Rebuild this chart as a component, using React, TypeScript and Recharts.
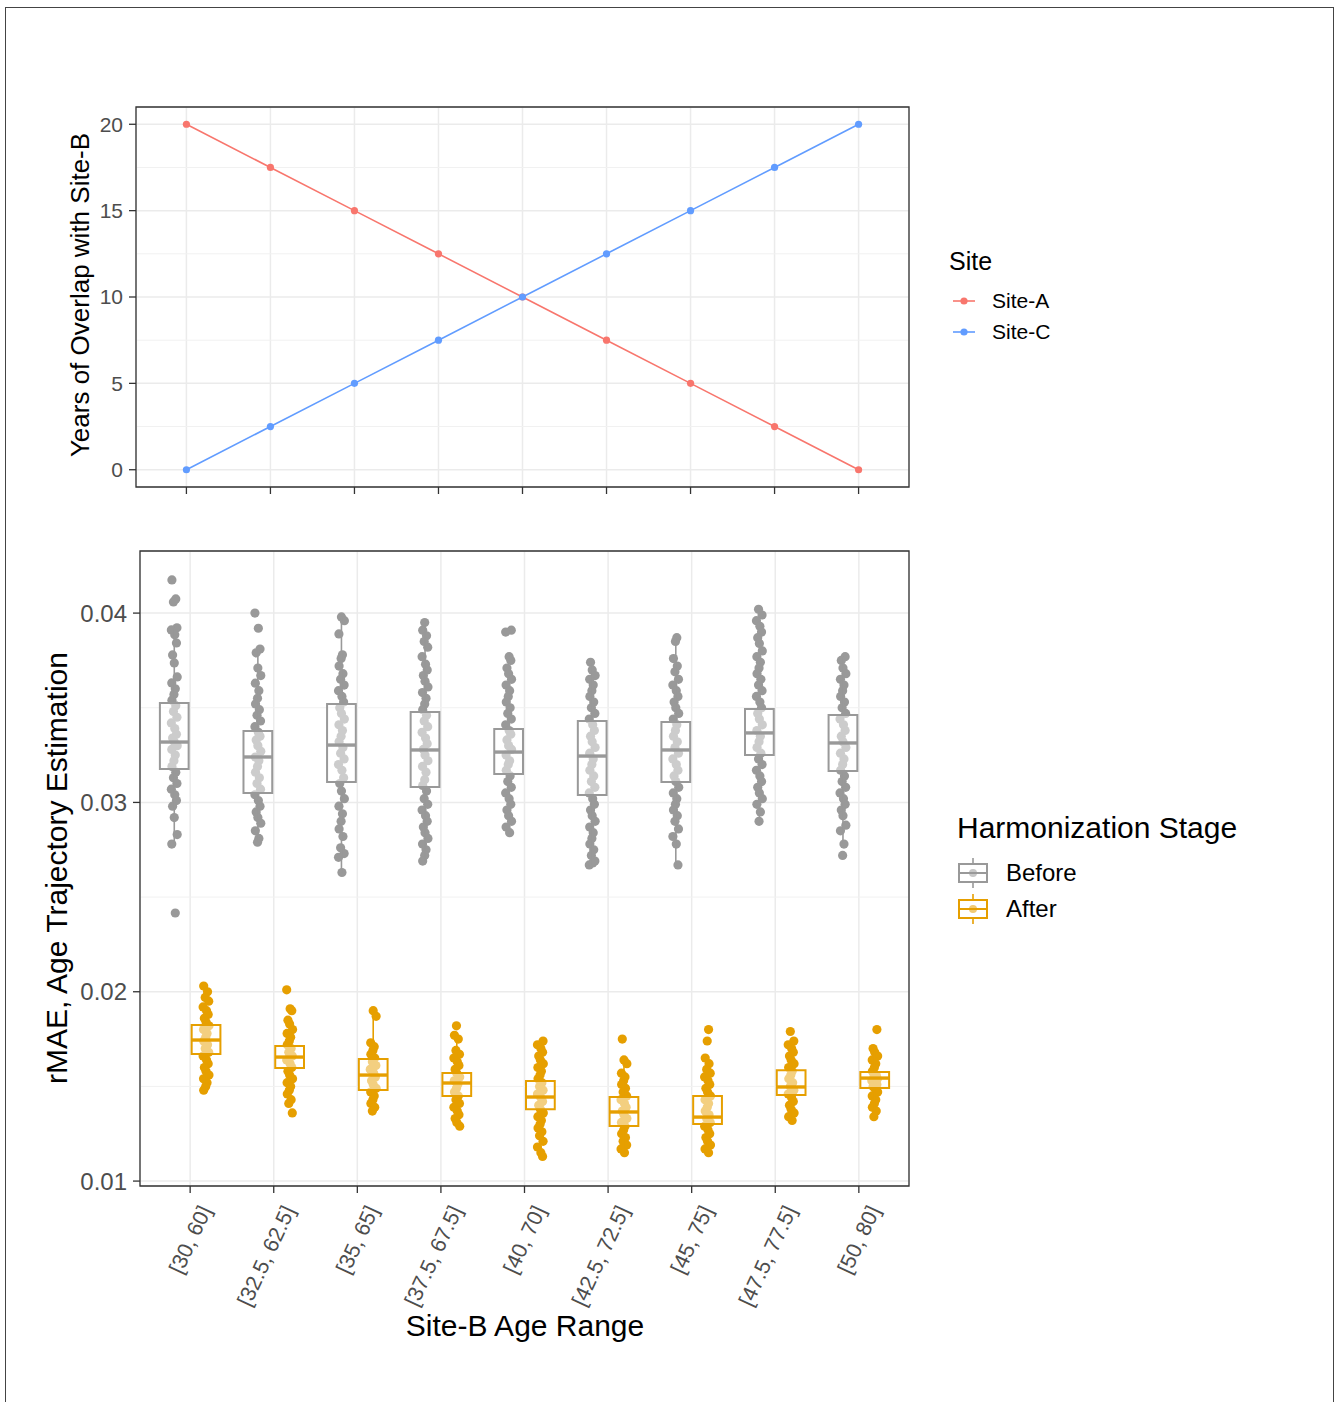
import React from 'react';
import {
    CartesianGrid,
    ComposedChart,
    Legend,
    Line,
    ReferenceArea,
    ReferenceLine,
    Scatter,
    XAxis,
    YAxis,
} from 'recharts';

const AGE_RANGES = [
    '[30, 60]',
    '[32.5, 62.5]',
    '[35, 65]',
    '[37.5, 67.5]',
    '[40, 70]',
    '[42.5, 72.5]',
    '[45, 75]',
    '[47.5, 77.5]',
    '[50, 80]',
];
const CATEGORY_POS = [1, 2, 3, 4, 5, 6, 7, 8, 9];
const STAGES = ['Before', 'After'];

const SITE_A_OVERLAP = [20, 17.5, 15, 12.5, 10, 7.5, 5, 2.5, 0];
const SITE_C_OVERLAP = [0, 2.5, 5, 7.5, 10, 12.5, 15, 17.5, 20];
const OVERLAP_TICKS = [0, 5, 10, 15, 20];
const OVERLAP_MINOR = [2.5, 7.5, 12.5, 17.5];

const RMAE_TICKS = [0.01, 0.02, 0.03, 0.04];
const RMAE_MINOR = [0.015, 0.025, 0.035];

// box stats
const BEFORE_Q1 = [0.03177, 0.0305, 0.03108, 0.03081, 0.0315, 0.03039, 0.03108, 0.0325, 0.03166];
const BEFORE_MEDIAN = [0.03319, 0.0324, 0.03303, 0.03277, 0.03266, 0.03245, 0.03277, 0.03367, 0.03314];
const BEFORE_Q3 = [0.03525, 0.03377, 0.0352, 0.03478, 0.03388, 0.0343, 0.03425, 0.03494, 0.03462];

const AFTER_Q1 = [0.01671, 0.01597, 0.01481, 0.01449, 0.0138, 0.01291, 0.01301, 0.01454, 0.01491];
const AFTER_MEDIAN = [0.01745, 0.01655, 0.0156, 0.01518, 0.01444, 0.01365, 0.01338, 0.01497, 0.01544];
const AFTER_Q3 = [0.01824, 0.01713, 0.01645, 0.01571, 0.01528, 0.01444, 0.01449, 0.01586, 0.01576];

// individual rMAE values (estimated from the jittered dots)
const BEFORE_POINTS = [
    [0.04175, 0.04075, 0.04059, 0.03922, 0.03911, 0.03885, 0.03842, 0.03779, 0.03737, 0.03663, 0.03631, 0.036, 0.0357, 0.0354, 0.0351, 0.0348, 0.0345, 0.0342, 0.0339, 0.0336, 0.0334, 0.0332, 0.033, 0.0328, 0.0325, 0.0322, 0.0319, 0.0316, 0.0313, 0.031, 0.0307, 0.0304, 0.0301, 0.0298, 0.0292, 0.0283, 0.0278, 0.02416],
    [0.04, 0.0392, 0.0381, 0.0379, 0.0371, 0.0367, 0.0363, 0.0359, 0.0355, 0.0352, 0.0349, 0.0346, 0.0343, 0.034, 0.0337, 0.0335, 0.0333, 0.033, 0.0327, 0.0324, 0.0322, 0.0319, 0.0316, 0.0313, 0.031, 0.0307, 0.0304, 0.0301, 0.0298, 0.0295, 0.0292, 0.0289, 0.0285, 0.0281, 0.0279],
    [0.0398, 0.0396, 0.0389, 0.0378, 0.0376, 0.0372, 0.0368, 0.0365, 0.0362, 0.0359, 0.0356, 0.0353, 0.035, 0.0347, 0.0344, 0.0341, 0.0338, 0.0335, 0.0332, 0.0329, 0.0326, 0.0323, 0.032, 0.0317, 0.0313, 0.031, 0.0306, 0.0302, 0.0298, 0.0294, 0.029, 0.0286, 0.0282, 0.0276, 0.0273, 0.0271, 0.0263],
    [0.0395, 0.0391, 0.0388, 0.0385, 0.0382, 0.0377, 0.0373, 0.037, 0.0367, 0.0364, 0.0361, 0.0358, 0.0355, 0.0352, 0.0349, 0.0346, 0.0343, 0.034, 0.0337, 0.0334, 0.0331, 0.0328, 0.0325, 0.0322, 0.0319, 0.0316, 0.0312, 0.0309, 0.0306, 0.0302, 0.0299, 0.0296, 0.0293, 0.029, 0.0287, 0.0284, 0.0281, 0.0278, 0.0275, 0.0272, 0.0269],
    [0.0391, 0.039, 0.0377, 0.0375, 0.0371, 0.0368, 0.0365, 0.0362, 0.0359, 0.0356, 0.0353, 0.035, 0.0347, 0.0344, 0.0341, 0.0338, 0.0336, 0.0333, 0.033, 0.0328, 0.0325, 0.0322, 0.032, 0.0317, 0.0314, 0.0311, 0.0308, 0.0305, 0.0302, 0.0299, 0.0296, 0.0293, 0.029, 0.0287, 0.0284],
    [0.0374, 0.037, 0.0367, 0.0365, 0.0362, 0.0359, 0.0356, 0.0353, 0.035, 0.0347, 0.0344, 0.0341, 0.0338, 0.0335, 0.0332, 0.0329, 0.0326, 0.0323, 0.032, 0.0317, 0.0314, 0.0311, 0.0308, 0.0305, 0.0302, 0.0299, 0.0296, 0.0293, 0.029, 0.0287, 0.0284, 0.0281, 0.0278, 0.0275, 0.0272, 0.0269, 0.0267, 0.0268],
    [0.0387, 0.0385, 0.0376, 0.0372, 0.0369, 0.0365, 0.0362, 0.0359, 0.0356, 0.0353, 0.035, 0.0347, 0.0344, 0.0341, 0.0338, 0.0335, 0.0332, 0.0329, 0.0326, 0.0323, 0.032, 0.0317, 0.0314, 0.0311, 0.0308, 0.0305, 0.0302, 0.0299, 0.0296, 0.0293, 0.029, 0.0286, 0.0282, 0.0278, 0.0267],
    [0.0402, 0.0399, 0.0396, 0.0393, 0.039, 0.0387, 0.0384, 0.038, 0.0377, 0.0374, 0.0371, 0.0368, 0.0365, 0.0362, 0.0359, 0.0356, 0.0353, 0.035, 0.0347, 0.0344, 0.0341, 0.0338, 0.0335, 0.0332, 0.0329, 0.0326, 0.0323, 0.032, 0.0317, 0.0314, 0.0311, 0.0308, 0.0305, 0.0302, 0.0299, 0.0295, 0.029],
    [0.0377, 0.0375, 0.0371, 0.0368, 0.0365, 0.0362, 0.0359, 0.0356, 0.0353, 0.035, 0.0347, 0.0344, 0.0341, 0.0338, 0.0335, 0.0332, 0.0329, 0.0326, 0.0323, 0.032, 0.0317, 0.0314, 0.0311, 0.0308, 0.0305, 0.0302, 0.0299, 0.0296, 0.0293, 0.0288, 0.0285, 0.0278, 0.0272],
];

const AFTER_POINTS = [
    [0.0203, 0.02, 0.0197, 0.0195, 0.0192, 0.019, 0.0188, 0.0186, 0.0184, 0.0182, 0.018, 0.0178, 0.0176, 0.0174, 0.0172, 0.017, 0.0168, 0.0166, 0.0164, 0.0162, 0.016, 0.0158, 0.0156, 0.0154, 0.0152, 0.015, 0.0148],
    [0.0201, 0.0191, 0.019, 0.0185, 0.0183, 0.018, 0.0178, 0.0176, 0.0174, 0.0172, 0.017, 0.0168, 0.0166, 0.0164, 0.0162, 0.016, 0.0158, 0.0156, 0.0154, 0.0152, 0.015, 0.0148, 0.0146, 0.0143, 0.0141, 0.0136],
    [0.019, 0.0187, 0.0173, 0.0171, 0.0169, 0.0167, 0.0165, 0.0163, 0.0161, 0.0159, 0.0157, 0.0155, 0.0153, 0.0151, 0.0149, 0.0147, 0.0145, 0.0143, 0.0141, 0.0139, 0.0137],
    [0.0182, 0.0177, 0.0175, 0.0169, 0.0167, 0.0165, 0.0163, 0.0161, 0.0159, 0.0157, 0.0155, 0.0153, 0.0151, 0.0149, 0.0147, 0.0145, 0.0143, 0.0141, 0.0139, 0.0137, 0.0135, 0.0133, 0.0131, 0.0129],
    [0.0174, 0.0172, 0.017, 0.0168, 0.0166, 0.0164, 0.0162, 0.016, 0.0158, 0.0156, 0.0154, 0.0152, 0.015, 0.0148, 0.0146, 0.0144, 0.0142, 0.014, 0.0138, 0.0136, 0.0134, 0.0132, 0.013, 0.0128, 0.0126, 0.0124, 0.0121, 0.0118, 0.0115, 0.0113],
    [0.0175, 0.0164, 0.0162, 0.0157, 0.0155, 0.0153, 0.0151, 0.0149, 0.0147, 0.0145, 0.0143, 0.0141, 0.0139, 0.0137, 0.0135, 0.0133, 0.0131, 0.0129, 0.0127, 0.0125, 0.0123, 0.0121, 0.0119, 0.0117, 0.0115],
    [0.018, 0.0174, 0.0165, 0.0162, 0.0159, 0.0157, 0.0155, 0.0153, 0.0151, 0.0149, 0.0147, 0.0145, 0.0143, 0.0141, 0.0139, 0.0137, 0.0135, 0.0133, 0.0131, 0.0129, 0.0127, 0.0125, 0.0123, 0.0121, 0.0119, 0.0117, 0.0115],
    [0.0179, 0.0174, 0.0172, 0.017, 0.0168, 0.0166, 0.0164, 0.0162, 0.016, 0.0158, 0.0156, 0.0154, 0.0152, 0.015, 0.0148, 0.0146, 0.0144, 0.0142, 0.014, 0.0138, 0.0136, 0.0134, 0.0132],
    [0.018, 0.017, 0.0168, 0.0166, 0.0164, 0.0162, 0.016, 0.0158, 0.0156, 0.0155, 0.0154, 0.0153, 0.0152, 0.0151, 0.015, 0.0149, 0.0147, 0.0145, 0.0143, 0.0141, 0.0139, 0.0137, 0.0134],
];

// fixed horizontal spread for the dots, in category units
const JITTER = [-0.028, 0.018, -0.01, 0.032, -0.035, 0.006, 0.026, -0.02, 0, 0.035, -0.03, 0.012, -0.004];

const SITE_A_COLOR = '#F8766D';
const SITE_C_COLOR = '#619CFF';
const BEFORE_COLOR = '#999999';
const AFTER_COLOR = '#E69F00';
const GRID = '#EBEBEB';
const FONT = '"Liberation Sans", Arial, Helvetica, sans-serif';

const X_DOMAIN: [number, number] = [0.4, 9.6];
const OVERLAP_DOMAIN: [number, number] = [-1, 21];
const RMAE_DOMAIN: [number, number] = [0.00974, 0.04328];
const DODGE = 0.19;
const HALF_BOX = 0.172;

const overlapRows = CATEGORY_POS.map((pos, i) => ({
    pos,
    siteA: SITE_A_OVERLAP[i],
    siteC: SITE_C_OVERLAP[i],
}));

function jittered(points: number[][], shift: number) {
    return points.flatMap((vals, g) =>
        vals.map((y, j) => ({
            x: CATEGORY_POS[g] + shift + JITTER[(j + g * 4) % JITTER.length],
            y,
        })),
    );
}

const beforeDots = jittered(BEFORE_POINTS, -DODGE);
const afterDots = jittered(AFTER_POINTS, DODGE);

function whiskerEnds(vals: number[], q1: number, q3: number) {
    const iqr = q3 - q1;
    const inside = vals.filter((v) => v >= q1 - 1.5 * iqr && v <= q3 + 1.5 * iqr);
    return [Math.min(...inside), Math.max(...inside)];
}

function boxes(
    stage: string,
    q1s: number[],
    medians: number[],
    q3s: number[],
    points: number[][],
    shift: number,
    color: string,
) {
    return q1s.map((q1, g) => {
        const cx = CATEGORY_POS[g] + shift;
        const q3 = q3s[g];
        const [lo, hi] = whiskerEnds(points[g], q1, q3);
        return [
            <ReferenceLine
                key={`${stage}-wu-${g}`}
                segment={[{ x: cx, y: q3 }, { x: cx, y: hi }]}
                stroke={color}
                strokeWidth={1.6}
                zIndex={690}
            />,
            <ReferenceLine
                key={`${stage}-wl-${g}`}
                segment={[{ x: cx, y: lo }, { x: cx, y: q1 }]}
                stroke={color}
                strokeWidth={1.6}
                zIndex={690}
            />,
            <ReferenceArea
                key={`${stage}-box-${g}`}
                x1={cx - HALF_BOX}
                x2={cx + HALF_BOX}
                y1={q1}
                y2={q3}
                fill="#ffffff"
                fillOpacity={0.5}
                stroke={color}
                strokeWidth={2}
                strokeOpacity={1}
                zIndex={700}
            />,
            <ReferenceLine
                key={`${stage}-med-${g}`}
                segment={[
                    { x: cx - HALF_BOX, y: medians[g] },
                    { x: cx + HALF_BOX, y: medians[g] },
                ]}
                stroke={color}
                strokeWidth={3.4}
                zIndex={710}
            />,
        ];
    });
}

const dotShape = (color: string, r: number) => (props: any) => (
    <circle cx={props.cx} cy={props.cy} r={r} fill={color} />
);

const AgeTick = (props: any) => {
    const { x, y, payload } = props;
    const label = AGE_RANGES[Math.round(payload.value) - 1];
    const px = x + 15;
    const py = y + 12;
    return (
        <text
            x={px}
            y={py}
            dy="0.35em"
            textAnchor="end"
            transform={`rotate(-65 ${px} ${py})`}
            fontSize={21.5}
            fill="#4D4D4D"
        >
            {label}
        </text>
    );
};

const SiteLegend = (props: any) => {
    const items = props.payload || [];
    return (
        <svg width={260} height={110} style={{ overflow: 'visible' }}>
            <text x={9} y={30} fontSize={25} fill="#000">
                Site
            </text>
            {items.map((it: any, i: number) => {
                const cy = 61 + i * 31;
                return (
                    <g key={it.value}>
                        <line x1={13} x2={35} y1={cy} y2={cy} stroke={it.color} strokeWidth={1.6} />
                        <circle cx={24} cy={cy} r={3.6} fill={it.color} />
                        <text x={52} y={cy} dy="0.35em" fontSize={21} fill="#000">
                            {it.value}
                        </text>
                    </g>
                );
            })}
        </svg>
    );
};

const StageLegend = (props: any) => {
    const items = (props.payload || [])
        .slice()
        .sort((a: any, b: any) => STAGES.indexOf(a.value) - STAGES.indexOf(b.value));
    return (
        <svg width={380} height={160} style={{ overflow: 'visible' }}>
            <text x={7} y={38} fontSize={30} fill="#000">
                Harmonization Stage
            </text>
            {items.map((it: any, i: number) => {
                const cy = 73 + i * 36;
                return (
                    <g key={it.value}>
                        <line x1={23} x2={23} y1={cy - 15} y2={cy + 15} stroke={it.color} strokeWidth={1.6} />
                        <rect x={9} y={cy - 9} width={28} height={18} fill="#fff" stroke={it.color} strokeWidth={2} />
                        <line x1={9} x2={37} y1={cy} y2={cy} stroke={it.color} strokeWidth={2} />
                        <circle cx={23} cy={cy} r={4} fill={it.color} fillOpacity={0.55} />
                        <text x={56} y={cy} dy="0.35em" fontSize={24} fill="#000">
                            {it.value}
                        </text>
                    </g>
                );
            })}
        </svg>
    );
};

function OverlapChart() {
    return (
        <ComposedChart
            width={1335}
            height={520}
            data={overlapRows}
            margin={{ top: 107, right: 426, bottom: 13, left: 76 }}
        >
            <CartesianGrid stroke={GRID} strokeWidth={1.5} />
            {OVERLAP_MINOR.map((v) => (
                <ReferenceLine key={v} y={v} stroke="#F1F1F1" strokeWidth={1} zIndex={-60} />
            ))}
            <XAxis
                dataKey="pos"
                type="number"
                domain={X_DOMAIN}
                ticks={CATEGORY_POS}
                tickFormatter={() => ''}
                height={20}
                axisLine={false}
                tickSize={7}
                tickLine={{ stroke: '#333', strokeWidth: 1.3 }}
            />
            <YAxis
                type="number"
                domain={OVERLAP_DOMAIN}
                ticks={OVERLAP_TICKS}
                width={60}
                axisLine={false}
                tickSize={7}
                tickMargin={6}
                tickLine={{ stroke: '#333', strokeWidth: 1.3 }}
                tick={{ fontSize: 21, fill: '#4D4D4D' }}
            />
            <Line
                name="Site-A"
                dataKey="siteA"
                stroke={SITE_A_COLOR}
                strokeWidth={1.6}
                dot={{ r: 3.6, fill: SITE_A_COLOR, stroke: SITE_A_COLOR, strokeWidth: 0 }}
                isAnimationActive={false}
            />
            <Line
                name="Site-C"
                dataKey="siteC"
                stroke={SITE_C_COLOR}
                strokeWidth={1.6}
                dot={{ r: 3.6, fill: SITE_C_COLOR, stroke: SITE_C_COLOR, strokeWidth: 0 }}
                isAnimationActive={false}
            />
            <ReferenceArea
                x1={X_DOMAIN[0]}
                x2={X_DOMAIN[1]}
                y1={OVERLAP_DOMAIN[0]}
                y2={OVERLAP_DOMAIN[1]}
                fill="none"
                stroke="#333"
                strokeWidth={1.3}
                strokeOpacity={1}
                zIndex={900}
            />
            <Legend
                layout="horizontal"
                verticalAlign="middle"
                align="center"
                content={SiteLegend}
                wrapperStyle={{ left: 940, top: 240, width: 260 }}
            />
        </ComposedChart>
    );
}

function RmaeChart() {
    return (
        <ComposedChart
            width={1335}
            height={880}
            margin={{ top: 31, right: 426, bottom: 94, left: 80 }}
        >
            <CartesianGrid stroke={GRID} strokeWidth={1.5} />
            {RMAE_MINOR.map((v) => (
                <ReferenceLine key={v} y={v} stroke="#F1F1F1" strokeWidth={1} zIndex={-60} />
            ))}
            <XAxis
                dataKey="x"
                type="number"
                domain={X_DOMAIN}
                ticks={CATEGORY_POS}
                height={120}
                axisLine={false}
                tickSize={7}
                tickMargin={2}
                tickLine={{ stroke: '#333', strokeWidth: 1.3 }}
                tick={<AgeTick />}
                interval={0}
            />
            <YAxis
                dataKey="y"
                type="number"
                domain={RMAE_DOMAIN}
                ticks={RMAE_TICKS}
                tickFormatter={(v) => v.toFixed(2)}
                width={60}
                axisLine={false}
                tickSize={7}
                tickMargin={6}
                tickLine={{ stroke: '#333', strokeWidth: 1.3 }}
                tick={{ fontSize: 24, fill: '#4D4D4D' }}
            />
            <Scatter
                name="Before"
                data={beforeDots}
                fill={BEFORE_COLOR}
                shape={dotShape(BEFORE_COLOR, 4.6)}
                isAnimationActive={false}
            />
            <Scatter
                name="After"
                data={afterDots}
                fill={AFTER_COLOR}
                shape={dotShape(AFTER_COLOR, 4.6)}
                isAnimationActive={false}
            />
            {boxes('before', BEFORE_Q1, BEFORE_MEDIAN, BEFORE_Q3, BEFORE_POINTS, -DODGE, BEFORE_COLOR)}
            {boxes('after', AFTER_Q1, AFTER_MEDIAN, AFTER_Q3, AFTER_POINTS, DODGE, AFTER_COLOR)}
            <ReferenceArea
                x1={X_DOMAIN[0]}
                x2={X_DOMAIN[1]}
                y1={RMAE_DOMAIN[0]}
                y2={RMAE_DOMAIN[1]}
                fill="none"
                stroke="#333"
                strokeWidth={1.3}
                strokeOpacity={1}
                zIndex={900}
            />
            <Legend
                layout="horizontal"
                verticalAlign="middle"
                align="center"
                content={StageLegend}
                wrapperStyle={{ left: 950, top: 280, width: 380 }}
            />
        </ComposedChart>
    );
}

export default function App() {
    return (
        <div
            style={{
                position: 'absolute',
                left: 0,
                top: 0,
                width: 1335,
                height: 1402,
                overflow: 'hidden',
                background: '#fff',
                fontFamily: FONT,
            }}
        >
            <div
                style={{
                    position: 'absolute',
                    left: 5,
                    top: 7,
                    width: 1329,
                    height: 1395,
                    borderTop: '1.3px solid #444',
                    borderLeft: '1.3px solid #444',
                    borderRight: '1.3px solid #444',
                    boxSizing: 'border-box',
                }}
            />
            <div style={{ position: 'absolute', left: 0, top: 0 }}>
                <OverlapChart />
            </div>
            <div style={{ position: 'absolute', left: 0, top: 520 }}>
                <RmaeChart />
            </div>
            <svg
                width={1335}
                height={1402}
                style={{ position: 'absolute', left: 0, top: 0, pointerEvents: 'none' }}
            >
                <text
                    x={80}
                    y={295}
                    transform="rotate(-90 80 295)"
                    textAnchor="middle"
                    dy="0.35em"
                    fontSize={26}
                    fill="#000"
                >
                    Years of Overlap with Site-B
                </text>
                <text
                    x={56}
                    y={868}
                    transform="rotate(-90 56 868)"
                    textAnchor="middle"
                    dy="0.35em"
                    fontSize={30}
                    fill="#000"
                >
                    rMAE, Age Trajectory Estimation
                </text>
                <text x={525} y={1325} textAnchor="middle" dy="0.35em" fontSize={30} fill="#000">
                    Site-B Age Range
                </text>
            </svg>
        </div>
    );
}
